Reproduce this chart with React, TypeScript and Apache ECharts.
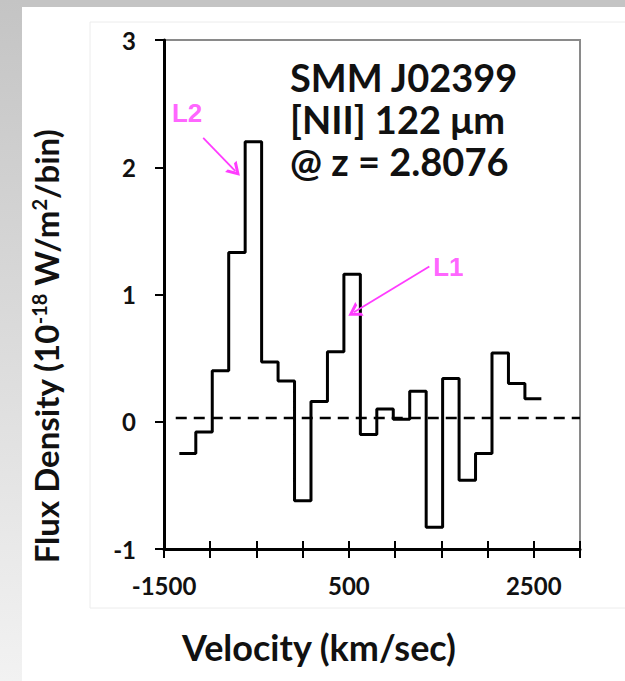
import React, { useEffect, useRef } from 'react';
import * as echarts from 'echarts';

// ---- data ----
const binEdges = [-1334, -1156, -978, -800, -622, -444, -266, -88, 90, 268, 446, 624, 802, 980, 1158, 1336, 1514, 1692, 1870, 2048, 2226, 2404, 2582];
const fluxValues = [-0.25, -0.08, 0.4, 1.33, 2.2, 0.47, 0.32, -0.62, 0.16, 0.55, 1.16, -0.1, 0.1, 0.02, 0.24, -0.83, 0.34, -0.46, -0.25, 0.54, 0.3, 0.18];
const baselineLevel = 0.03;
const baselineRange = [-1373, 3000];
const xLabelTicks = [-1500, 500, 2500];
const titleLines = ['SMM J02399', '[NII] 122 μm', '@ z = 2.8076'];
const annotationNames = ['L2', 'L1'];
const annotationLabelPos = [[-1250, 2.43], [1576, 1.22]];
const annotationArrowFrom = [[-1076, 2.23], [1370, 1.22]];
const annotationArrowTo = [[-728, 1.97], [554, 0.86]];

const FONT = 'Lato, "Open Sans", sans-serif';
const MAGENTA = '#ff3cff';

export default function App() {
  const ref = useRef<HTMLDivElement>(null);
  useEffect(() => {
    document.body.style.margin = '0';
    if (!ref.current) return;
    const chart = echarts.init(ref.current, undefined, { renderer: 'svg' });

    const stepPoints: number[][] = [];
    fluxValues.forEach((v, i) => {
      stepPoints.push([binEdges[i], v], [binEdges[i + 1], v]);
    });

    const chevron = 'path://M10,0 L20,14 L15.5,14 L10,6 L4.5,14 L0,14 Z';

    const gridBox = { left: 164, right: 45, top: 40, bottom: 132 };

    chart.setOption({
      animation: false,
      backgroundColor: '#ffffff',
      title: {
        text: titleLines.join('\n'),
        left: 285,
        top: 51,
        textStyle: { fontFamily: FONT, fontWeight: 'bold', fontSize: 38, lineHeight: 42, color: '#111' },
      },
      graphic: [
        { type: 'rect', z: -10, shape: { x: 0, y: 0, width: 625, height: 7 }, style: { fill: '#c4c4c4' } },
        {
          type: 'rect', z: -10, shape: { x: 0, y: 0, width: 22, height: 681 },
          style: {
            fill: new echarts.graphic.LinearGradient(0, 0, 0, 1, [
              { offset: 0, color: '#c4c4c4' },
              { offset: 1, color: '#f2f2f2' },
            ]),
          },
        },
        { type: 'rect', z: -9, shape: { x: 90, y: 22, width: 540, height: 586 }, style: { fill: 'none', stroke: '#ececec', lineWidth: 1 } },
      ],
      grid: [
        { ...gridBox, show: true, borderColor: '#8a8a8a', borderWidth: 2, backgroundColor: 'transparent' },
        { ...gridBox, show: false },
      ],
      xAxis: [
        {
          type: 'value', gridIndex: 0, min: -1500, max: 3000, interval: 500,
          axisLine: { onZero: false, lineStyle: { color: '#000', width: 3 } },
          axisTick: { length: 9, lineStyle: { color: '#000', width: 2 } },
          splitLine: { show: false },
          axisLabel: {
            margin: 24, fontFamily: FONT, fontWeight: 'bold', fontSize: 24, color: '#111',
            formatter: (v: number) => (xLabelTicks.includes(v) ? String(v) : ''),
          },
          name: 'Velocity (km/sec)', nameLocation: 'middle', nameGap: 80,
          nameTextStyle: { fontFamily: FONT, fontWeight: 'bold', fontSize: 36, color: '#111', padding: [0, 106, 0, 0] },
        },
        {
          type: 'value', gridIndex: 1, min: -1500, max: 3000, interval: 500, position: 'bottom',
          axisLine: { show: false, onZero: false },
          axisTick: { show: true, inside: true, length: 8, lineStyle: { color: '#000', width: 2 } },
          axisLabel: { show: false },
          splitLine: { show: false },
        },
      ],
      yAxis: [
        {
          type: 'value', gridIndex: 0, min: -1, max: 3, interval: 1,
          axisLine: { onZero: false, lineStyle: { color: '#000', width: 3 } },
          axisTick: { length: 9, lineStyle: { color: '#000', width: 2 } },
          splitLine: { show: false },
          axisLabel: { margin: 28, fontFamily: FONT, fontWeight: 'bold', fontSize: 24, color: '#111' },
          name: '{a|Flux Density (10}{s|-18}{a| W/m}{s|2}{a|/bin)}',
          nameLocation: 'middle', nameGap: 102,
          nameTextStyle: {
            padding: [0, 104, 0, 0],
            rich: {
              a: { fontFamily: FONT, fontWeight: 'bold', fontSize: 33, color: '#111' },
              s: { fontFamily: FONT, fontWeight: 'bold', fontSize: 20, color: '#111', verticalAlign: 'top' },
            },
          },
        },
        {
          type: 'value', gridIndex: 1, min: -1, max: 3, show: false,
        },
      ],
      series: [
        {
          type: 'line', name: 'spectrum', data: stepPoints, showSymbol: false, symbol: 'none',
          lineStyle: { color: '#000', width: 3 }, z: 3,
          markLine: {
            silent: true, animation: false,
            symbol: ['none', chevron], symbolSize: [16, 13],
            label: { show: false },
            lineStyle: { color: MAGENTA, width: 1.8, type: 'solid' },
            data: annotationArrowFrom.map((f, i) => [
              { coord: f },
              { coord: annotationArrowTo[i] },
            ]),
          },
        },
        {
          type: 'line', name: 'baseline',
          data: [[baselineRange[0], baselineLevel], [baselineRange[1], baselineLevel]],
          showSymbol: false, symbol: 'none',
          lineStyle: { color: '#000', width: 2.5, type: [11, 7] }, z: 2,
        },
        {
          type: 'scatter', name: 'labels',
          data: annotationNames.map((n, i) => ({ name: n, value: annotationLabelPos[i] })),
          symbolSize: 1, itemStyle: { color: 'rgba(0,0,0,0)' },
          label: {
            show: true, position: 'inside', formatter: '{b}', color: MAGENTA,
            fontFamily: '"Liberation Sans", Arial, sans-serif', fontWeight: 'bold', fontSize: 26,
          },
        },
      ],
    });
    return () => chart.dispose();
  }, []);
  return <div ref={ref} style={{ width: 625, height: 681 }} />;
}
